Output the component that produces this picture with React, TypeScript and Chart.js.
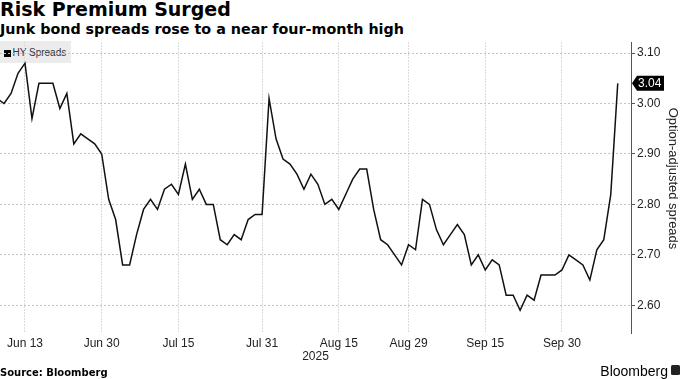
import React, { useEffect, useRef } from "react";
import { Chart, registerables } from "chart.js";

Chart.register(...registerables);

// ---- Data ----
const dates: string[] = [
  "Jun 9", "Jun 10", "Jun 11", "Jun 12", "Jun 13", "Jun 16", "Jun 17", "Jun 18", "Jun 19", "Jun 20",
  "Jun 23", "Jun 24", "Jun 25", "Jun 26", "Jun 27", "Jun 30",
  "Jul 1", "Jul 2", "Jul 3", "Jul 4", "Jul 7", "Jul 8", "Jul 9", "Jul 10", "Jul 11", "Jul 14",
  "Jul 15", "Jul 16", "Jul 17", "Jul 18", "Jul 21", "Jul 22", "Jul 23", "Jul 24", "Jul 25",
  "Jul 28", "Jul 29", "Jul 30", "Jul 31",
  "Aug 1", "Aug 4", "Aug 5", "Aug 6", "Aug 7", "Aug 8", "Aug 11", "Aug 12", "Aug 13", "Aug 14",
  "Aug 15", "Aug 18", "Aug 19", "Aug 20", "Aug 21", "Aug 22", "Aug 25", "Aug 26", "Aug 27",
  "Aug 28", "Aug 29",
  "Sep 1", "Sep 2", "Sep 3", "Sep 4", "Sep 5", "Sep 8", "Sep 9", "Sep 10", "Sep 11", "Sep 12",
  "Sep 15", "Sep 16", "Sep 17", "Sep 18", "Sep 19", "Sep 22", "Sep 23", "Sep 24", "Sep 25",
  "Sep 26", "Sep 29", "Sep 30",
  "Oct 1", "Oct 2", "Oct 3", "Oct 6", "Oct 7", "Oct 8", "Oct 9", "Oct 10",
];

const hySpreads: number[] = [
  3.01, 3.00, 3.02, 3.06, 3.08, 2.97, 3.04, 3.04, 3.04, 2.99,
  3.02, 2.92, 2.94, 2.93, 2.92, 2.90,
  2.81, 2.77, 2.68, 2.68, 2.74, 2.79, 2.81, 2.79, 2.83, 2.84,
  2.82, 2.88, 2.81, 2.83, 2.80, 2.80, 2.73, 2.72, 2.74,
  2.73, 2.77, 2.78, 2.78,
  3.01, 2.93, 2.89, 2.88, 2.86, 2.83, 2.86, 2.84, 2.80, 2.81,
  2.79, 2.82, 2.85, 2.87, 2.87, 2.79, 2.73, 2.72, 2.70,
  2.68, 2.72,
  2.71, 2.81, 2.80, 2.75, 2.72, 2.74, 2.76, 2.74, 2.68, 2.70,
  2.67, 2.69, 2.68, 2.62, 2.62, 2.59, 2.62, 2.61, 2.66,
  2.66, 2.66, 2.67,
  2.70, 2.69, 2.68, 2.65, 2.71, 2.73, 2.82, 3.04,
];

const xTickLabels: string[] = ["Jun 13", "Jun 30", "Jul 15", "Jul 31", "Aug 15", "Aug 29", "Sep 15", "Sep 30"];
const yTickValues: number[] = [2.6, 2.7, 2.8, 2.9, 3.0, 3.1];
const yearLabel = "2025";
const seriesName = "HY Spreads";
const yAxisTitle = "Option-adjusted spreads";
const titleText = "Risk Premium Surged";
const subtitleText = "Junk bond spreads rose to a near four-month high";
const sourceText = "Source: Bloomberg";

const xTickIndex = xTickLabels.map((l) => dates.indexOf(l));

const extrasPlugin = {
  id: "extras",
  afterDraw(chart: any) {
    const { ctx, chartArea, scales } = chart;
    const y = scales.y;
    ctx.save();
    // year label centred under the axis
    ctx.font = '12px "Liberation Sans"';
    ctx.fillStyle = "#222";
    ctx.textAlign = "center";
    ctx.textBaseline = "middle";
    ctx.fillText(yearLabel, (chartArea.left + chartArea.right) / 2, chartArea.bottom + 24);

    // y-axis title
    ctx.save();
    ctx.translate(673, 178.5);
    ctx.rotate(Math.PI / 2);
    ctx.font = '13px "Liberation Sans"';
    ctx.fillStyle = "#222";
    ctx.textAlign = "center";
    ctx.textBaseline = "middle";
    ctx.fillText(yAxisTitle, 0, 0);
    ctx.restore();

    // last value marker
    const last = hySpreads[hySpreads.length - 1];
    const py = y.getPixelForValue(last);
    const r = chartArea.right;
    ctx.beginPath();
    ctx.moveTo(r + 1, py);
    ctx.lineTo(r + 6, py - 7.5);
    ctx.lineTo(r + 33, py - 7.5);
    ctx.lineTo(r + 33, py + 7.5);
    ctx.lineTo(r + 6, py + 7.5);
    ctx.closePath();
    ctx.fillStyle = "#000";
    ctx.fill();
    ctx.font = '12px "Liberation Sans"';
    ctx.fillStyle = "#fff";
    ctx.textAlign = "left";
    ctx.textBaseline = "middle";
    ctx.fillText(last.toFixed(2), r + 7, py + 0.5);
    ctx.restore();
  },
};

export default function App() {
  const canvasRef = useRef<HTMLCanvasElement | null>(null);

  useEffect(() => {
    const canvas = canvasRef.current;
    if (!canvas) return;
    const chart = new Chart(canvas, {
      type: "line",
      data: {
        datasets: [
          {
            label: seriesName,
            data: hySpreads.map((v, i) => ({ x: i, y: v })),
            borderColor: "#111",
            borderWidth: 1.5,
            pointRadius: 0,
            tension: 0,
            fill: false,
          },
        ],
      },
      options: {
        responsive: false,
        animation: false,
        events: [],
        layout: { padding: { top: 42, left: 0, right: 0, bottom: 0 } },
        plugins: { legend: { display: false }, tooltip: { enabled: false }, title: { display: false } },
        scales: {
          x: {
            type: "linear",
            min: 0.416,
            max: 90.9,
            afterBuildTicks: (s: any) => {
              s.ticks = xTickIndex.map((v) => ({ value: v }));
            },
            afterFit: (s: any) => {
              s.height = 46;
              s.paddingLeft = 0;
              s.paddingRight = 0;
            },
            ticks: {
              autoSkip: false,
              maxRotation: 0,
              padding: 3,
              color: "#222",
              font: { family: '"Liberation Sans"', size: 12 },
              callback: (v: any) => {
                const i = xTickIndex.indexOf(Number(v));
                return i >= 0 ? xTickLabels[i] : "";
              },
            },
            grid: { color: "#dadada", lineWidth: 1, drawTicks: false },
            border: { display: false, dash: [2, 1] },
          },
          y: {
            position: "right",
            min: 2.545,
            max: 3.122,
            afterBuildTicks: (s: any) => {
              s.ticks = yTickValues.map((v) => ({ value: v }));
            },
            afterFit: (s: any) => {
              s.width = 49;
              s.paddingTop = 0;
              s.paddingBottom = 0;
            },
            ticks: {
              padding: 2,
              color: "#222",
              font: { family: '"Liberation Sans"', size: 12 },
              callback: (v: any) => Number(v).toFixed(2),
            },
            grid: {
              color: "#c4c4c4",
              lineWidth: 1,
              drawTicks: true,
              tickLength: 4,
              tickColor: "#555",
              tickBorderDash: [],
            },
            border: { display: true, color: "#555", width: 1, dash: [2, 2] },
          },
        },
      },
      plugins: [extrasPlugin],
    } as any);
    return () => chart.destroy();
  }, []);

  return (
    <div
      style={{
        position: "absolute",
        left: 0,
        top: 0,
        width: 680,
        height: 379,
        background: "#fff",
        overflow: "hidden",
        fontFamily: '"Liberation Sans", sans-serif',
      }}
    >
      <div
        style={{
          position: "absolute",
          left: 0,
          top: -1,
          fontFamily: '"DejaVu Sans", sans-serif',
          fontWeight: 700,
          fontSize: 19,
          lineHeight: "20px",
          color: "#000",
          whiteSpace: "nowrap",
        }}
      >
        {titleText}
      </div>
      <div
        style={{
          position: "absolute",
          left: 0,
          top: 21.5,
          fontFamily: '"DejaVu Sans", sans-serif',
          fontWeight: 700,
          fontSize: 14.3,
          lineHeight: "14px",
          color: "#000",
          whiteSpace: "nowrap",
        }}
      >
        {subtitleText}
      </div>
      <div
        style={{
          position: "absolute",
          left: 0,
          top: 41,
          width: 71,
          height: 22,
          background: "#ececec",
        }}
      >
        <div style={{ position: "absolute", left: 4, top: 9, width: 7, height: 7, background: "#000" }} />
        <div
          style={{
            position: "absolute",
            left: 12.5,
            top: 6,
            fontSize: 10,
            lineHeight: "12px",
            color: "#333",
            whiteSpace: "nowrap",
          }}
        >
          {seriesName}
        </div>
      </div>
      <canvas
        ref={canvasRef}
        width={680}
        height={379}
        style={{ position: "absolute", left: 0, top: 0, width: 680, height: 379 }}
      />
      <div
        style={{
          position: "absolute",
          left: 0,
          top: 368,
          fontFamily: '"DejaVu Sans", sans-serif',
          fontWeight: 700,
          fontSize: 10,
          lineHeight: "10px",
          color: "#000",
          whiteSpace: "nowrap",
        }}
      >
        {sourceText}
      </div>
      <div
        style={{
          position: "absolute",
          right: 12,
          top: 364,
          fontSize: 14,
          lineHeight: "14px",
          color: "#000",
          whiteSpace: "nowrap",
        }}
      >
        Bloomberg
      </div>
      <div
        style={{
          position: "absolute",
          left: 671,
          top: 365,
          width: 9,
          height: 10,
          borderRadius: 1.5,
          background: "#222",
        }}
      />
    </div>
  );
}
